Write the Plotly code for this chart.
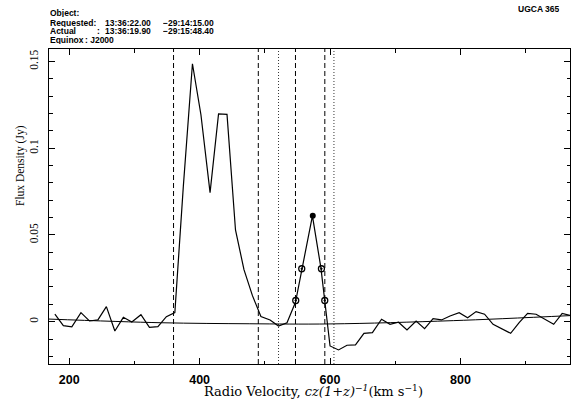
import plotly.graph_objects as go

# ---- data ----
velocity = [178, 191, 204, 218, 231, 244, 257, 270, 283, 296, 310, 323, 336, 349, 362,
            375, 389, 402, 416, 429, 442, 455, 468, 481, 494, 508, 521, 534, 547, 560,
            573, 586, 600, 613, 626, 639, 652, 665, 679, 692, 705, 718, 732, 745, 758,
            771, 784, 798, 811, 824, 837, 850, 863, 877, 890, 903, 916, 930, 943, 956, 969]
flux = [0.0043, -0.0023, -0.0030, 0.0052, 0.0004, 0.0010, 0.0087, -0.0054, 0.0025, -0.0002,
        0.0040, -0.0033, -0.0029, 0.0029, 0.0052,
        0.078, 0.1487, 0.1193, 0.0744, 0.1198, 0.1195, 0.0529, 0.0300, 0.0150, 0.0030,
        0.0010, -0.0025, -0.0006, 0.0112, 0.0360,
        0.0610, 0.0310, -0.0140, -0.0163, -0.0136, -0.0134, -0.0067, -0.0063, 0.0014, -0.0015,
        -0.0003, -0.0048, 0.0004, -0.0040, 0.0017,
        0.0010, 0.0033, 0.0052, 0.0023, 0.0058, 0.0043, -0.0015, -0.0038, -0.0067, -0.0006,
        0.0048, 0.0043, 0.0014, -0.0015, 0.0048, 0.0035]

baseline_v = [169, 340, 477, 600, 789, 968]
baseline_f = [0.0015, -0.0006, -0.0012, -0.0013, 0.0006, 0.0035]

width_v = [547.4, 556.6, 586.8, 591.9]
width_f = [0.0122, 0.0305, 0.0305, 0.0122]
peak_v = [573.5]
peak_f = [0.061]

dashed_lines = [360, 490, 547, 592]
dotted_lines = [521, 606]

x_ticks = [200, 400, 600, 800]
y_ticks = [0, 0.05, 0.1, 0.15]
y_ticktext = ["0", "0.05", "0.1", "0.15"]

x_range = [169, 968]
y_range = [-0.0244, 0.1572]

# ---- figure ----
W, H = 571, 409
ML, MR, MT, MB = 49, 1, 49, 45
PW, PH = W - ML - MR, H - MT - MB

def px(x):
    return (x - ML) / PW

def py(y):
    return (H - MB - y) / PH

fig = go.Figure()
fig.add_trace(go.Scatter(x=baseline_v, y=baseline_f, mode="lines",
                         line=dict(color="black", width=1, shape="spline"),
                         hoverinfo="skip", showlegend=False))
fig.add_trace(go.Scatter(x=velocity, y=flux, mode="lines",
                         line=dict(color="black", width=1.2),
                         showlegend=False))
fig.add_trace(go.Scatter(x=width_v, y=width_f, mode="markers",
                         marker=dict(symbol="circle-open-dot", size=6, color="black",
                                     line=dict(width=1.3, color="black")),
                         showlegend=False))
fig.add_trace(go.Scatter(x=peak_v, y=peak_f, mode="markers",
                         marker=dict(symbol="circle", size=6, color="black"),
                         showlegend=False))

for v in dashed_lines:
    fig.add_shape(type="line", xref="x", yref="paper", x0=v, x1=v, y0=0, y1=1,
                  line=dict(color="black", width=1, dash="5px,3px"))
for v in dotted_lines:
    fig.add_shape(type="line", xref="x", yref="paper", x0=v, x1=v, y0=0, y1=1,
                  line=dict(color="black", width=0.8, dash="1px,2px"))

hdr_font = dict(family="Liberation Sans", size=8.5, color="black")
def hdr(text, x, y, anchor="left", font=None):
    fig.add_annotation(text="<b>%s</b>" % text, x=px(x), y=py(y), xref="paper", yref="paper",
                       xanchor=anchor, yanchor="middle", showarrow=False, height=8,
                       borderpad=0, font=font or hdr_font)

hdr("Object:", 49, 13.5)
hdr("Requested:", 49, 22.5)
hdr("13:36:22.00", 104, 22.5)
hdr("\u221229:14:15.00", 161.5, 22.5)
hdr("Actual", 49, 31)
hdr(":", 95.5, 31)
hdr("13:36:19.90", 104, 31)
hdr("\u221229:15:48.40", 161.5, 31)
hdr("Equinox", 49, 39.5)
hdr(": J2000", 83.5, 39.5)
hdr("UGCA 365", 560.5, 8.5, anchor="right")

fig.add_annotation(text="Flux Density (Jy)", x=px(20), y=py(166), xref="paper", yref="paper",
                   textangle=-90, showarrow=False, xanchor="center", yanchor="middle",
                   font=dict(family="Liberation Serif", size=11.5, color="black"))
fig.add_annotation(text="Radio Velocity, <i>cz(1+z)</i><sup><i>\u22121</i></sup>(km s<sup>\u22121</sup>)",
                   x=px(313.5), y=py(391), xref="paper", yref="paper",
                   showarrow=False, xanchor="center", yanchor="middle",
                   font=dict(family="DejaVu Serif", size=13, color="black"))

fig.update_layout(
    width=W, height=H,
    margin=dict(l=ML, r=MR, t=MT, b=MB, pad=0),
    plot_bgcolor="white", paper_bgcolor="white",
    showlegend=False,
    xaxis=dict(range=x_range, showgrid=False, zeroline=False,
               showline=True, linecolor="black", linewidth=1, mirror="ticks",
               ticks="inside", ticklen=6, tickcolor="black", tickwidth=1,
               tickvals=x_ticks, ticktext=[str(t) for t in x_ticks],
               tickfont=dict(family="Liberation Sans", size=12.5, color="black", weight="bold"),
               ticklabelstandoff=4,
               minor=dict(dtick=100, tick0=0, ticks="inside", ticklen=3.5,
                          tickcolor="black", tickwidth=1, showgrid=False)),
    yaxis=dict(range=y_range, showgrid=False, zeroline=False,
               showline=True, linecolor="black", linewidth=1, mirror="ticks",
               ticks="inside", ticklen=6, tickcolor="black", tickwidth=1,
               tickvals=y_ticks, ticktext=y_ticktext, tickangle=-90,
               tickfont=dict(family="Liberation Serif", size=11.5, color="black"),
               ticklabelstandoff=5,
               minor=dict(dtick=0.01, tick0=0, ticks="inside", ticklen=3.5,
                          tickcolor="black", tickwidth=1, showgrid=False)),
)

fig.write_html("out.html")
